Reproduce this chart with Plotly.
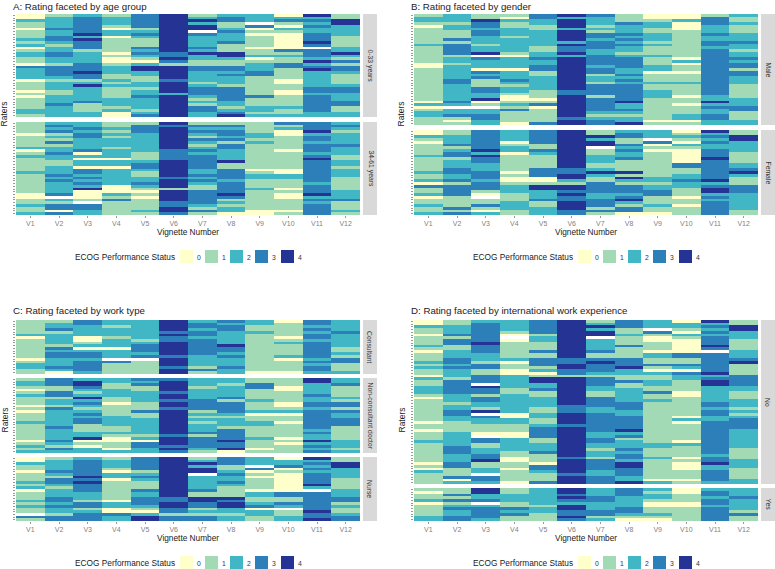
import plotly.graph_objects as go

W, H = 775, 569
VIGNETTES = ["V1", "V2", "V3", "V4", "V5", "V6", "V7", "V8", "V9", "V10", "V11", "V12"]
LEVELS = ["0", "1", "2", "3", "4"]
COLOURS = ["#FFFFCC", "#A1DAB4", "#41B6C4", "#2C7FB8", "#253494"]

# One string per vignette, one character per rater, top to bottom. "." = no rating.
A_YOUNG = [
 "00 2 11 0 111 2 1 2 0 1 22 11 0 3 2222 0 111 0 1 0 1111 22 1",
 "1 2222 3 22 33 2 1 22 33 22 1 3333 2 1 222 11 222 3 2222",
 "2 333333 4 2 4 333 1 22 22 333 4 33 1 2 4 22222 3 111 22",
 "1 222 1 0 22 0 11111 0 1 00 1 222 11 2 1 2 1111 222 1 2 00",
 "33333 1 2 3 2 111 3 2 3 2 1 0 2 44 22 11 22 1 22 3 2 222 1 2 3",
 "44444444444444 33 4 3 1 44444 3 4444 2 44444444",
 "1 2 4 2 44 . 3 2222 3 2 4 2 21 1 33 2222 1 2 333 2 1 2 1 33 22",
 "2 33 11 2 3 22 2 3 111 44 21 1 33 2 3 222 1 33333 22 1 2 3 4",
 "222 . 3 0 1 0 1111 0 11 2 0 1 2 22 33 1 111111 3 111 22 1 2",
 "0 23 1 0 2 1 000000 3 12 11 33 111 1 00 11 00 1111 2 11 2",
 "4 2 3 2 3 22 333 4 3 . 333 2 4 2 3 4 222222 33 2 333333 22",
 "11 44 2222 1111 22 4 2 1 3 1 33 2 1 111 2 33 222 33 1 1 22",
]
A_OLD = [
 "1111 0 1111 2 0 1 2 11111 2 1111111 00 11 2 11 2",
 "2 3 2 3 1 2 1 3 1 2 2 3 2 2 1 1 2 22 3 2 3 2222 3 . 2 1 33 0 3",
 "22 3 2 33 2 222 3 0 2 0 22 0 33 2 3 2 3 2 4 000 1 . 33 22",
 "11 2 1 2 1 222 1 222 0 22 0 222 222 000 2 1 3 11111",
 "1 333 2222222 111 2 33 2 11 2 2 3 2 1 0 1 0 1111 2 1",
 "4 3 4444444 4 3333 444444 3 444 1 4444 33 44 3",
 "1 3 2 3 2 1 3 2 1 2 3 2 33333 2 2 3 2 3 2 11 33333 2 1 3 1",
 "1 3 2 3 3 2 3 1 33 2222 4 11 3333 2 3333 4 3 1 2 1 22 0",
 "1111 22 1 2 111111111 0 122 111 2 1111111 00",
 "3 1 2 00 11111 0 111111 00 22 111 0 1 00 111 1 0 1",
 "333 4 2 33 2 3 33 2 3 4 333 33333 2 333 4 2 3 2 3333",
 "2 3 2 1 2222 3 222 11 22 1 222 1 1 111 2 2 2 3 111 2 1",
]
B_MALE = [
 "1 22 1 0 1 11111 2 11 1111 00 111111111111 0 2 0 1 22 111",
 "222 1 22 111 3 1 3333 1 22 1 22222 33 222222 3 2 . 22 3 1 0 1",
 "11 4 33 2 33 222 12 2 4 . 3 222 0 3 23 111 33 22 4 0 1 . 22 33 22",
 "1 0 2 11 222 1 22222 1 0 2222 0 222 3 2 1 22 1 00 1 2 1 3 1111 0",
 "33 22 11 222222 11 22 3 22 33 11 22222 11 1 0 1 3 0 11111 3",
 "4 2 444 2 4444 2 4 33 4 2 444444444444 33 44444444 3 44",
 "3 222 12 1 33 2 333 22 3333 2 33 1 22 1 3333 1 33333 2 1 2 33",
 "111 3 222 3 2 3 2 3 22 1 2 3333 22 3 2 3 2 333333 4 22 3 2 1 22 4",
 "00 1 22 11 222 1 2 111 2 111 22 0 111 2 11 22 2 11111111 0 1",
 "00 2 000 1111111111 0 2 0 11 0 111 2 1111 0 11 0 1 11 22 0 1",
 "1 333 222 3 22 33 2 33333333333333333 22 4 2 3 22 33 22",
 "2 11 2 111 222 3 22 1 22 3 2 33 1 33 222 11111 222 33 111 22",
]
B_FEMALE = [
 "00 2 1 0 1111 2 11111 2 11 2 0 3 11 2 0 11 2 11 2",
 "11 222 3 12 33 1 222 33 22 3 1 3333 1111 3 1 3",
 "3333333 4 2 4 33 222 333 2 333 1 0 . 11 3 1 0 2",
 "2222 0 1 22 0 111111 0 1 00 1 222 111 222 11",
 "33333 11 3 2 11111 333 00 1 44 22 23 11 222",
 "44444444444444 33 44 2 1 44 3 4 33 444 33",
 "11 4 2 44 . 11 222 11 2 4 21 1 3333 22 333 1 3 1",
 "2 33 11 3 23 22 3 1111 4 1 4 2 1 33 32 3 4 21 33 0",
 "222 . 3 0 1 0 111111 111 22 1 22 33 111 2 11 0",
 "01 2 1 0 2 1 00000 33 11 22 3 22 111 0 11 0 111",
 "4 2 3 2 3 22 333 4 3333333 4 2 3 44 2 3 2 333 33",
 "11 44 2222 1111 22 3 4 2 111 333 222222 11",
]
C_CONSULTANT = [
 "11111 2 0 1111111 0 1 22 11",
 "1 22 3 1 2 2 22 1 3 2 33 22 2 3 2 0",
 "33 2222 00 1 2 0 2 33 2 3 33 3 2",
 "22 1 222 1 222 0 222 . 3 1111",
 "2222222 1 2 333 2 3 . 11111",
 "4444 3 4 33 44444 3 444 3 44",
 "2 33 2 33 2 333333 222 2 1 3 1",
 "3 2 33 22 222 4 33 2 3 22 2 3 22",
 "22 11 2 1 1111111 111111 0",
 "0 11111 0 1 2 1111 2 0 1111 0",
 "33 2 3 2 33 2 333333 2 3 2 33 2",
 "2222 3 22222 11 2 1 33 111 2",
]
C_NONCONSULTANT = [
 "1 22 1 0 1 2 111 0 1 0 111 2 111111 0 1 2 1 2",
 "333 11 33 1 22 1 3 2222 22 3 2222 3 2 1 3 2",
 "2 44 3 2 1 2 4 2 3 2 1 2 3 2 33 111 22 4 0 1 0 22",
 "22 11 222 11 0 1111 2222 1 1 21 00 11 0 2",
 "3 2 3 11 2222 111 3 11 22222 2 1 2 0 3 3 22",
 "3 4444 3 44 3 44 3 444444444 3 444 3 4 3",
 "222 1 2222 3333 1 2 1 2 1 222 3 1 3333 21",
 "22 1 2222 3 1 3333 2 1 222 1 3333 4 33 4 0",
 "11 33 1111 2 111 2 0 11 22 111 1 2 111 0 1",
 "111 00 1111 00 1 2 0 11 0 11111 0 1 0 111",
 "44 2222 3 22 33 2 333333 3 2 3 22 4 2 32 3",
 "223 1111 2 1 33 1 3 22 333 11111 222 1 2",
]
C_NURSE = [
 "00 2 11 0 111 2 1 2 0 111 2 1 2 11 . 3 1",
 "1 2222 3 2 1 33 2 1 222 33 2 3 22 1 33",
 "2 333333 4 3 4 333 222 1 33 1 2 333",
 "1 222 1 0 22 0 1111111 0 22 00 3 22",
 "33333 1 2 3 2 111 3 22 333 2 1 0 2 44",
 "444444444444444 33 44 33 1 33",
 "1 2 4 2 44 . 22222 3 11 44 33 1 2 1 33",
 "333 11 2 3 22 3 2 1111 4 3 44 22 1 22",
 "222 . 3 0 1 0 1111 0 22 1 12 3 0 22 11",
 "0 22 3 0 1 0 000000 33 11 3 2 . 11 22",
 "4 2 3 2 3 2 3333 4 2 . 3333333 4 3 3 4",
 "11 44 2222 1111 222 33 12 11 2 33",
]
D_NO = [
 "00 2 11 0 111 2 1 0 111 2 1 2 11 0 2 11 222 1 0 11111111 0 11 0 111 2 1111111 0 1 0 2 1111",
 "11 222 3 1 33 11 222 33 2 3 222 1 33333 22 21 22 33 22 1111 22222 333 222 33 111 3 0 2",
 "2 3333333 4 333 222 1 33 11 333 . 4 33 1 33 22 1 4 . 3 22 111 0 . 33 11 22 33 4 11 22 . 33 2",
 "2222 1 0 . 0 111111 2 0 11 00 22222 11 22 22222 00 22 111 00 2222 211 00 11 0 1111 0",
 "33333 1 22 111 3 11 333 1 2 0 1 44 22 3 11 2222 11 22 11 2 3333 11 222 3 11 1 0 3 3 2 111 3",
 "44444444444444 33 44 33 1 4444444444 33 3 4444 3 44444444444 3 44444 3 444",
 "1 2 4 2 44 . 2222 3 11 3 4 33 32 1 333 22 11 3333 22 333333 3 22 33 22 1 22 1 3333 22 33 3",
 "333 11 2 11 1 3 1111 333 4 22 11 3 11 2 2222 333 22 33 333 4 2 3 1 222 3 2 33 2 44 333 22 4",
 "222 . 3 1 00 111 0 22 11 3 1 0 2 11 22 11 3 11 2 1111111111 11111 22 111 2 111111 1 0 2",
 "0 22 1 0 2 1 00000 33 11 3 2 0 3 22 1111 00 1111111 0 2 0 111111 0 2 1111 0 1 000 111 0 1",
 "4 2 3 2 3 2 333 4 3 . 3333333 4 23 44 222222 33 2 33 22 33333333333 3 2 33 4 22 33 33 2",
 "11 44 222 1111 222 3 4 11 11 3 333 22 111 222 1 2 1 23 333 22 22222 1111 222 1111 22",
]
D_YES = [
 "1 0 11 2 0 1111 22",
 "11 3 1 3 1 2 3 22 33",
 "44 22 3 . 23 333 2",
 "11 222 11 3 2 3 11",
 "222222 1 22 111",
 "44 3 4 3 2 44 3 3 4 3",
 "222 33 222 33 12",
 "333 2222 33 2 1 0",
 "2 1 2 2 1 00 11 2 1 0",
 "00 111 00 11111",
 "2 33 2 33 2 33333",
 "222 3 2222 1 3 11",
]

PANELS = [
    {"title": "A: Rating faceted by age group", "left": 16, "right": 360, "strip": (363, 377),
     "title_y": 6, "raters_x": 4, "tick_y": 222, "axis_y": 232, "legend_dx": 0, "legend_y": 250,
     "facets": [("0-33 years", A_YOUNG, 14, 117), ("34-61 years", A_OLD, 122, 215)]},
    {"title": "B: Rating faceted by gender", "left": 414, "right": 758, "strip": (761, 775),
     "title_y": 6, "raters_x": 401, "tick_y": 222, "axis_y": 232, "legend_dx": 398, "legend_y": 250,
     "facets": [("Male", B_MALE, 14, 125), ("Female", B_FEMALE, 130, 215)]},
    {"title": "C: Rating faceted by work type", "left": 16, "right": 360, "strip": (363, 377),
     "title_y": 310, "raters_x": 4, "tick_y": 528, "axis_y": 538, "legend_dx": 0, "legend_y": 556,
     "facets": [("Consultant", C_CONSULTANT, 320, 374),
                ("Non-consultant doctor", C_NONCONSULTANT, 378, 453),
                ("Nurse", C_NURSE, 457, 521)]},
    {"title": "D: Rating faceted by international work experience", "left": 414, "right": 758, "strip": (761, 775),
     "title_y": 310, "raters_x": 401, "tick_y": 528, "axis_y": 538, "legend_dx": 398, "legend_y": 556,
     "facets": [("No", D_NO, 320, 484), ("Yes", D_YES, 488, 521)]},
]

FONT = "Liberation Sans"
SWATCH_X = [180, 205, 230, 255, 281]
SWATCH = 13

bad = []
for p in PANELS:
    for label, cols, _, _ in p["facets"]:
        lens = [len(c.replace(" ", "")) for c in cols]
        if len(set(lens)) > 1:
            bad.append((label, lens))
if bad:
    raise SystemExit(str(bad))


def px(x):
    return x / W


def py(y):
    return 1 - y / H


def decode(columns):
    cols = [c.replace(" ", "") for c in columns]
    n = len(cols[0])
    return [[None if cols[j][i] == "." else int(cols[j][i]) for j in range(12)] for i in range(n)]


def note(text, x, y, size, color="#1a1a1a", xanchor="center", angle=0):
    return dict(text=text, x=px(x), y=py(y), xref="paper", yref="paper", showarrow=False,
                xanchor=xanchor, yanchor="middle", textangle=angle, borderpad=0, borderwidth=0,
                font=dict(family=FONT, size=size, color=color))


scale = []
for i, c in enumerate(COLOURS):
    scale += [[i / 5, c], [(i + 1) / 5, c]]

fig = go.Figure()
notes, shapes, layout_axes = [], [], {}
k = 0
for p in PANELS:
    notes.append(note(p["title"], p["left"] - 3, p["title_y"], 9.7, color="#222222", xanchor="left"))
    y_top, y_bottom = p["facets"][0][2], p["facets"][-1][3]
    notes.append(note("Raters", p["raters_x"], (y_top + y_bottom) / 2, 8.5, angle=-90))
    notes.append(note("Vignette Number", (p["left"] + p["right"]) / 2, p["axis_y"], 8.3))
    for f, (label, cols, y0, y1) in enumerate(p["facets"]):
        k += 1
        z = decode(cols)
        n = len(z)
        xname, yname = ("x", "y") if k == 1 else (f"x{k}", f"y{k}")
        fig.add_trace(go.Heatmap(z=z, x=VIGNETTES, y=list(range(n)), xaxis=xname, yaxis=yname,
                                 zmin=0, zmax=5, colorscale=scale, showscale=False,
                                 hoverongaps=False))
        last = f == len(p["facets"]) - 1
        suffix = "" if k == 1 else str(k)
        layout_axes["xaxis" + suffix] = dict(
            domain=[px(p["left"]), px(p["right"])], anchor=yname, type="category",
            categoryorder="array", categoryarray=VIGNETTES, showgrid=False, zeroline=False,
            showline=False, ticks="outside" if last else "", ticklen=2, tickcolor="#999999",
            tickwidth=1, showticklabels=last, tickangle=0,
            tickfont=dict(family=FONT, size=7, color="#7f7f7f"), range=[-0.5, 11.5])
        layout_axes["yaxis" + suffix] = dict(
            domain=[py(y1), py(y0)], anchor=xname, range=[n - 0.5, -0.5], showgrid=False,
            zeroline=False, showline=False, ticks="outside", ticklen=2, tickcolor="#999999",
            tickwidth=1, tickmode="array", tickvals=list(range(n)), showticklabels=False)
        s0, s1 = p["strip"]
        shapes.append(dict(type="rect", xref="paper", yref="paper", x0=px(s0), x1=px(s1),
                           y0=py(y1), y1=py(y0), fillcolor="#D9D9D9", line_width=0, layer="below"))
        notes.append(note(label, (s0 + s1) / 2, (y0 + y1) / 2, 6.8, color="#333333", angle=90))
    dx, ly = p["legend_dx"], p["legend_y"]
    notes.append(note("ECOG Performance Status", 175 + dx, ly + 7, 8.3, xanchor="right"))
    for lab, colour, sx in zip(LEVELS, COLOURS, SWATCH_X):
        shapes.append(dict(type="rect", xref="paper", yref="paper", x0=px(sx + dx),
                           x1=px(sx + dx + SWATCH), y0=py(ly + SWATCH), y1=py(ly),
                           fillcolor=colour, line_width=0))
        notes.append(note(lab, sx + dx + SWATCH + 6, ly + 7, 6.8, color="#333333"))

fig.update_layout(width=W, height=H, margin=dict(l=0, r=0, t=0, b=0), autosize=False,
                  plot_bgcolor="white", paper_bgcolor="white", showlegend=False,
                  annotations=notes, shapes=shapes, **layout_axes)
fig.write_html("out.html", config={"displayModeBar": False},
               post_script="document.body.style.margin='0';document.documentElement.style.overflow='hidden';")
